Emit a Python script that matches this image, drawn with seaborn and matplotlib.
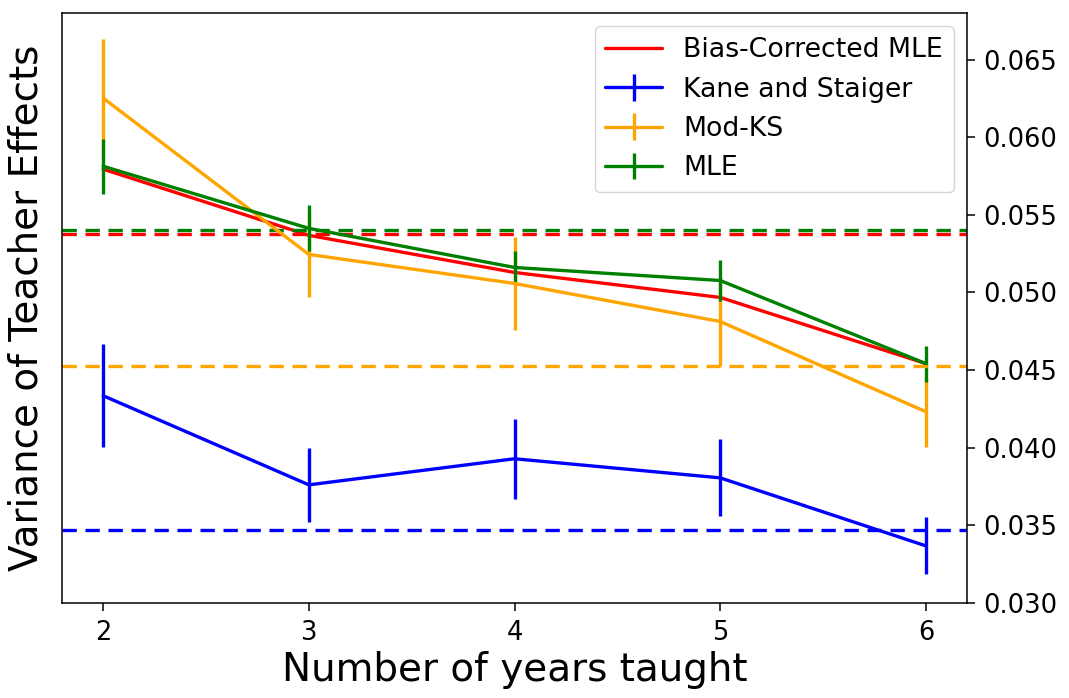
import numpy as np
import pandas as pd
import seaborn as sns
import matplotlib.pyplot as plt

sns.set_style('ticks', {'axes.edgecolor': 'black', 'xtick.color': 'black', 'ytick.color': 'black',
                        'text.color': 'black', 'axes.labelcolor': 'black'})
plt.rcParams['font.family'] = ['DejaVu Sans']

"""
    VALUES READ OFF THE CHART
"""
years = [2, 3, 4, 5, 6]

bc_mle = [0.05794, 0.05368, 0.05129, 0.04968, 0.04542]

ks = [0.04335, 0.03761, 0.03929, 0.03806, 0.03368]
ks_err = [0.00332, 0.00239, 0.00258, 0.00248, 0.00184]

mod_ks = [0.06252, 0.05245, 0.05058, 0.04813, 0.04232]
mod_ks_err = [0.00381, 0.00271, 0.00300, 0.00284, 0.00226]

mle = [0.05813, 0.05413, 0.05161, 0.05077, 0.04542]
mle_err = [0.00177, 0.00148, 0.00103, 0.00129, 0.00116]

# pooled estimates (dashed lines)
pooled_bc_mle = 0.05374
pooled_ks = 0.03471
pooled_mod_ks = 0.04529
pooled_mle = 0.05400

df = pd.DataFrame({'years': years, 'bc_mle': bc_mle})

"""
    PLOT
"""
_lw = 2.4
fig = plt.figure(figsize=(10.69, 6.98), dpi=100)
ax = fig.add_axes([0.058, 0.1361, 0.8466, 0.8453])

sns.lineplot(data=df, x='years', y='bc_mle', color='red', lw=_lw, ax=ax,
             label='Bias-Corrected MLE')
ax.errorbar(years, ks, yerr=ks_err, color='blue', lw=_lw, elinewidth=_lw,
            label='Kane and Staiger')
ax.errorbar(years, mod_ks, yerr=mod_ks_err, color='orange', lw=_lw, elinewidth=_lw,
            label='Mod-KS')
ax.errorbar(years, mle, yerr=mle_err, color='green', lw=_lw, elinewidth=_lw,
            label='MLE')

_dash = (4.3, 2.6)
ax.axhline(pooled_bc_mle, color='red', lw=_lw, ls='--', dashes=_dash)
ax.axhline(pooled_ks, color='blue', lw=_lw, ls='--', dashes=_dash)
ax.axhline(pooled_mod_ks, color='orange', lw=_lw, ls='--', dashes=_dash)
ax.axhline(pooled_mle, color='green', lw=_lw, ls='--', dashes=_dash)

ax.set_xlim(1.8, 6.2)
ax.set_ylim(0.030, 0.0680)
ax.set_xticks(years)
ax.set_yticks(np.arange(0.030, 0.0651, 0.005))
ax.yaxis.set_major_formatter(plt.FormatStrFormatter('%.3f'))
ax.yaxis.tick_right()
ax.yaxis.set_label_position('left')

for _s in ax.spines.values():
    _s.set_linewidth(1.1)
ax.tick_params(axis='both', labelsize=18.5, length=5.5, width=1.1, pad=6.5)

ax.set_xlabel('Number of years taught', fontsize=28)
ax.set_ylabel('Variance of Teacher Effects', fontsize=28, labelpad=12)

ax.legend(loc='upper right', fontsize=19.3, handlelength=2.1, framealpha=0.8,
          edgecolor='0.8', fancybox=True)

plt.savefig('out.png', dpi=100)
